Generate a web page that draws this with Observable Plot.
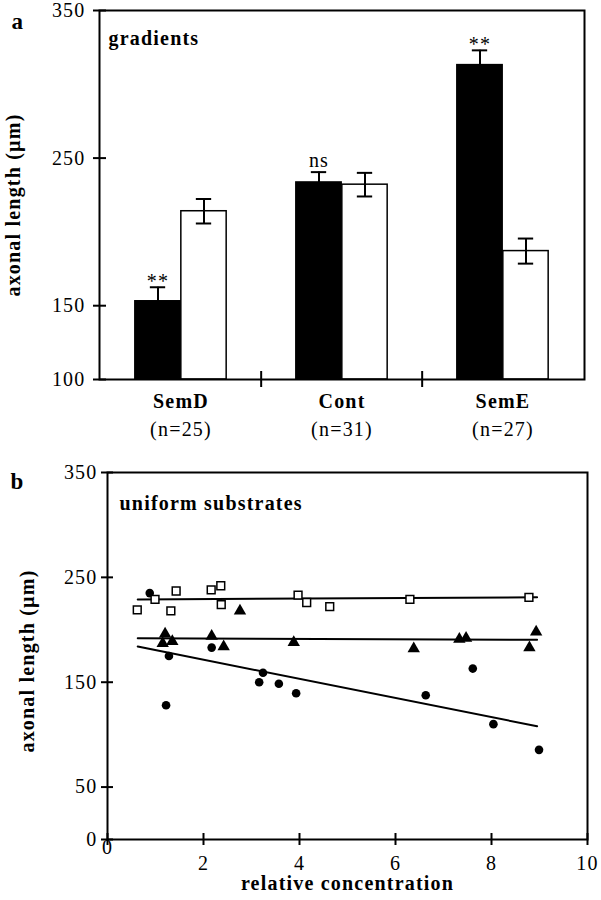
<!DOCTYPE html>
<html>
<head>
<meta charset="utf-8">
<script src="https://cdn.jsdelivr.net/npm/d3@7"></script>
<script src="https://cdn.jsdelivr.net/npm/@observablehq/plot@0.6"></script>
<style>
  body { margin: 0; background: #fff; }
  #wrap { position: relative; width: 601px; height: 900px; overflow: hidden; }
  #wrap svg { position: absolute; left: 0; }
  #wrap svg text { font-family: "Liberation Serif", "DejaVu Serif", serif !important; letter-spacing: 1.2px; fill: #000; }
</style>
</head>
<body>
<div id="wrap"></div>
<script>
// ---------- Panel a: gradients ----------
const categories   = ["SemD", "Cont", "SemE"];
const nLabels      = ["(n=25)", "(n=31)", "(n=27)"];
const gradientMean = [153, 233.5, 313];   // filled bars
const gradientErr  = [9.5, 7, 10];
const controlMean  = [214, 232, 187];     // open bars
const controlErr   = [8.3, 8, 8.5];
const significance = ["**", "ns", "**"];
const yTicksA      = [100, 150, 250, 350];

// ---------- Panel b: uniform substrates ----------
const squareX   = [0.62, 0.99, 1.32, 1.43, 2.16, 2.36, 2.37, 3.97, 4.15, 4.63, 6.30, 8.78];
const squareY   = [219, 229, 218, 237, 238, 242, 224, 233, 226, 222, 229, 231];
const circleX   = [0.88, 1.22, 1.28, 2.17, 3.16, 3.24, 3.57, 3.93, 6.63, 7.61, 8.04, 8.99];
const circleY   = [235, 128, 175, 183, 150, 159, 148.5, 139.5, 137.5, 163, 110, 85.5];
const triangleX = [1.15, 1.20, 1.35, 2.17, 2.42, 2.76, 3.88, 6.38, 7.33, 7.47, 8.79, 8.93];
const triangleY = [187, 196, 189, 194, 184, 218, 188, 182, 191, 192, 183, 198];
const fitX         = [0.63, 8.95];
const fitSquares   = [229, 231];
const fitTriangles = [192, 190.5];
const fitCircles   = [184, 108];
const xTicksB = [0, 2, 4, 6, 8, 10];
const yTicksB = [0, 50, 150, 250, 350];

const FONT = "Liberation Serif";
const W = 601;

// ----- build rows -----
const gradRows = categories.map((c, i) => ({cat: c, mean: gradientMean[i], err: gradientErr[i], n: nLabels[i], sig: significance[i]}));
const ctrlRows = categories.map((c, i) => ({cat: c, mean: controlMean[i], err: controlErr[i]}));

const mA = {top: 10, bottom: 81, left: 99, right: 17};
const hA = 460;
const plotWA = W - mA.left - mA.right;
const plotHA = hA - mA.top - mA.bottom;
const bw = plotWA / categories.length;
const barW = 46;
const base = yTicksA[0];

const plotA = Plot.plot({
  width: W, height: hA,
  marginTop: mA.top, marginBottom: mA.bottom, marginLeft: mA.left, marginRight: mA.right,
  style: {fontFamily: FONT, fontSize: "20px", color: "#000", background: "transparent", overflow: "visible"},
  x: {domain: categories, padding: 0, axis: null},
  y: {domain: [yTicksA[0], yTicksA[yTicksA.length - 1]], axis: null},
  marks: [
    Plot.barY(gradRows, {x: "cat", y1: d => base, y2: "mean", fill: "#000", stroke: "#000", strokeWidth: 1.5,
      insetLeft: bw / 2 - barW, insetRight: bw / 2}),
    Plot.barY(ctrlRows, {x: "cat", y1: d => base, y2: "mean", fill: "#fff", stroke: "#000", strokeWidth: 1.5,
      insetLeft: bw / 2, insetRight: bw / 2 - barW}),
    // error bars: filled (upper only)
    Plot.ruleX(gradRows, {x: "cat", y1: "mean", y2: d => d.mean + d.err, dx: -barW / 2, stroke: "#000", strokeWidth: 2}),
    Plot.tickY(gradRows, {x: "cat", y: d => d.mean + d.err, dx: -barW / 2, insetLeft: bw / 2 - 8, insetRight: bw / 2 - 8, stroke: "#000", strokeWidth: 2}),
    // error bars: open (both)
    Plot.ruleX(ctrlRows, {x: "cat", y1: d => d.mean - d.err, y2: d => d.mean + d.err, dx: barW / 2, stroke: "#000", strokeWidth: 2}),
    Plot.tickY(ctrlRows, {x: "cat", y: d => d.mean + d.err, dx: barW / 2, insetLeft: bw / 2 - 8, insetRight: bw / 2 - 8, stroke: "#000", strokeWidth: 2}),
    Plot.tickY(ctrlRows, {x: "cat", y: d => d.mean - d.err, dx: barW / 2, insetLeft: bw / 2 - 8, insetRight: bw / 2 - 8, stroke: "#000", strokeWidth: 2}),
    // significance
    Plot.text(gradRows.filter(d => d.sig === "**"), {x: "cat", y: d => d.mean + d.err, text: "sig", dx: -barW / 2, dy: 1,
      lineAnchor: "bottom", fontSize: 20}),
    Plot.text(gradRows.filter(d => d.sig !== "**"), {x: "cat", y: d => d.mean + d.err, text: "sig", dx: -barW / 2, dy: -5,
      lineAnchor: "bottom", fontSize: 20}),
    // frame & axes
    Plot.frame({stroke: "#000", strokeWidth: 2}),
    Plot.tickY(yTicksA, {y: d => d, insetRight: plotWA - 13, dx: -6, stroke: "#000", strokeWidth: 2}),
    Plot.text(yTicksA, {y: d => d, text: d => String(d), frameAnchor: "left", textAnchor: "end", dx: -14, fontSize: 20}),
    Plot.tickX(categories.slice(1), {x: d => d, dx: -bw / 2, insetTop: plotHA - 16, dy: 8, stroke: "#000", strokeWidth: 2}),
    Plot.text(gradRows, {x: "cat", text: "cat", frameAnchor: "bottom", dy: 28, fontWeight: "bold", fontSize: 20}),
    Plot.text(gradRows, {x: "cat", text: "n", frameAnchor: "bottom", dy: 56, fontSize: 20}),
    Plot.text(["gradients"], {frameAnchor: "top-left", text: d => d, dx: 9, dy: 20, textAnchor: "start", fontWeight: "bold", fontSize: 20}),
    Plot.text(["a"], {frameAnchor: "top-left", text: d => d, dx: -88, dy: 2, textAnchor: "start", fontWeight: "bold", fontSize: 23}),
    Plot.text(["axonal length (µm)"], {frameAnchor: "left", text: d => d, textAnchor: "middle", dx: -86, dy: 10, rotate: -90, fontWeight: "bold", fontSize: 20})
  ]
});
plotA.style.top = "0px";

// ----- panel b -----
const mB = {top: 12, bottom: 61, left: 107, right: 14};
const hB = 440;
const plotWB = W - mB.left - mB.right;
const plotHB = hB - mB.top - mB.bottom;

const sqRows  = squareX.map((x, i) => ({x, y: squareY[i]}));
const ciRows  = circleX.map((x, i) => ({x, y: circleY[i]}));
const trRows  = triangleX.map((x, i) => ({x, y: triangleY[i]}));
const fitRows = [
  ...fitX.map((x, i) => ({series: "squares", x, y: fitSquares[i]})),
  ...fitX.map((x, i) => ({series: "triangles", x, y: fitTriangles[i]})),
  ...fitX.map((x, i) => ({series: "circles", x, y: fitCircles[i]}))
];

const plotB = Plot.plot({
  width: W, height: hB,
  marginTop: mB.top, marginBottom: mB.bottom, marginLeft: mB.left, marginRight: mB.right,
  style: {fontFamily: FONT, fontSize: "20px", color: "#000", background: "transparent", overflow: "visible"},
  x: {domain: [xTicksB[0], xTicksB[xTicksB.length - 1]], axis: null},
  y: {domain: [yTicksB[0], yTicksB[yTicksB.length - 1]], axis: null},
  marks: [
    Plot.frame({stroke: "#000", strokeWidth: 2}),
    Plot.tickY(yTicksB, {y: d => d, insetRight: plotWB - 12, dx: -6, stroke: "#000", strokeWidth: 2}),
    Plot.text(yTicksB, {y: d => d, text: d => String(d), frameAnchor: "left", textAnchor: "end", dx: -10, fontSize: 20}),
    Plot.tickX(xTicksB, {x: d => d, insetTop: plotHB - 12, dy: 6, stroke: "#000", strokeWidth: 2}),
    Plot.text(xTicksB.filter(d => d !== 0), {x: d => d, text: d => String(d), frameAnchor: "bottom", dy: 30, fontSize: 20}),
    Plot.text(xTicksB.filter(d => d === 0), {x: d => d, text: d => String(d), frameAnchor: "bottom", dy: 14, fontSize: 20}),
    Plot.line(fitRows, {x: "x", y: "y", z: "series", stroke: "#000", strokeWidth: 2}),
    Plot.dot(ciRows, {x: "x", y: "y", r: 4.3, fill: "#000", symbol: "circle"}),
    Plot.dot(trRows, {x: "x", y: "y", r: 4.6, fill: "#000", symbol: "triangle"}),
    Plot.dot(sqRows, {x: "x", y: "y", r: 4.4, fill: "#fff", stroke: "#000", strokeWidth: 1.5, symbol: "square"}),
    Plot.text(["uniform substrates"], {frameAnchor: "top-left", text: d => d, dx: 12, dy: 23, textAnchor: "start", fontWeight: "bold", fontSize: 20}),
    Plot.text(["relative concentration"], {frameAnchor: "bottom", text: d => d, dy: 50, fontWeight: "bold", fontSize: 20}),
    Plot.text(["b"], {frameAnchor: "top-left", text: d => d, dx: -97, dy: 0, textAnchor: "start", fontWeight: "bold", fontSize: 23}),
    Plot.text(["axonal length (µm)"], {frameAnchor: "left", text: d => d, textAnchor: "middle", dx: -80, dy: 5, rotate: -90, fontWeight: "bold", fontSize: 20})
  ]
});
plotB.style.top = "460px";

const wrap = document.getElementById("wrap");
wrap.appendChild(plotA);
wrap.appendChild(plotB);
</script>
</body>
</html>
